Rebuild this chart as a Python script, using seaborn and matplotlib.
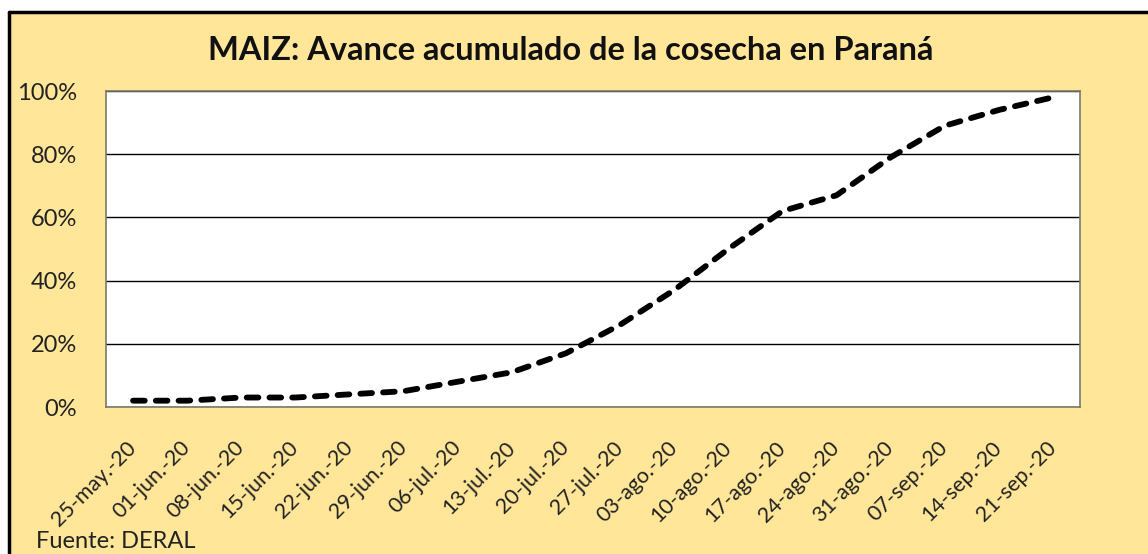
import pandas as pd
import matplotlib.pyplot as plt
import seaborn as sns
import numpy as np
from matplotlib.patches import Rectangle
from matplotlib.lines import Line2D
from matplotlib.ticker import PercentFormatter

fechas = ['25-may.-20', '01-jun.-20', '08-jun.-20', '15-jun.-20', '22-jun.-20',
          '29-jun.-20', '06-jul.-20', '13-jul.-20', '20-jul.-20', '27-jul.-20',
          '03-ago.-20', '10-ago.-20', '17-ago.-20', '24-ago.-20', '31-ago.-20',
          '07-sep.-20', '14-sep.-20', '21-sep.-20']
avance = [2, 2, 3, 3, 4, 5, 8, 11, 17, 26, 37, 50, 62, 67, 79, 89, 94, 98]

df = pd.DataFrame({'fecha': fechas, 'avance': avance})

sns.set_style('white')
plt.rcParams['font.family'] = ['Lato', 'DejaVu Sans']

bg = '#FFE699'
W, H = 1148, 554
fig = plt.figure(figsize=(W / 100, H / 100), dpi=100, facecolor='white')

# yellow chart area with black top/left frame, cropped on right and bottom
fig.patches.append(Rectangle((9 / W, 0), 1, 1 - 12 / H, transform=fig.transFigure,
                             facecolor=bg, edgecolor='none', zorder=-2))
fig.lines.append(Line2D([9 / W, 1], [1 - 12 / H, 1 - 12 / H], transform=fig.transFigure,
                        color='black', linewidth=2.5))
fig.lines.append(Line2D([9 / W, 9 / W], [0, 1 - 12 / H], transform=fig.transFigure,
                        color='black', linewidth=2.5))

ax = fig.add_axes([106 / W, 1 - 407 / H, 974 / W, 316 / H])
ax.set_facecolor('white')

sns.lineplot(data=df, x='fecha', y='avance', sort=False, ax=ax, color='black',
             linewidth=4.2, linestyle=(0, (2.0, 1.9)), dash_capstyle='round')

ax.set_xlim(-0.5, len(fechas) - 0.5)
ax.set_ylim(0, 100)
ax.set_yticks([0, 20, 40, 60, 80, 100])
ax.yaxis.set_major_formatter(PercentFormatter(decimals=0))
ax.grid(axis='y', color='black', linewidth=1)
ax.set_axisbelow(True)
ax.set_xlabel('')
ax.set_ylabel('')

for s in ax.spines.values():
    s.set_color('#7a7a6a')
    s.set_linewidth(1.2)

ax.tick_params(axis='y', labelsize=17, pad=21, length=0, labelcolor='#222222')
ax.tick_params(axis='x', labelsize=15.5, pad=27, length=0, labelcolor='#222222')
for lab in ax.get_xticklabels():
    lab.set_rotation(45)
    lab.set_ha('right')
    lab.set_va('center')
    lab.set_rotation_mode('anchor')

fig.text(0.497, 1 - 50 / H, 'MAIZ: Avance acumulado de la cosecha en Paraná',
         ha='center', va='center', fontsize=23.5, fontweight='bold', color='#111111')
fig.text(36 / W, 1 - 541 / H, 'Fuente: DERAL', ha='left', va='center',
         fontsize=17, color='#222222')

fig.savefig('out.png', dpi=100, facecolor='white')
